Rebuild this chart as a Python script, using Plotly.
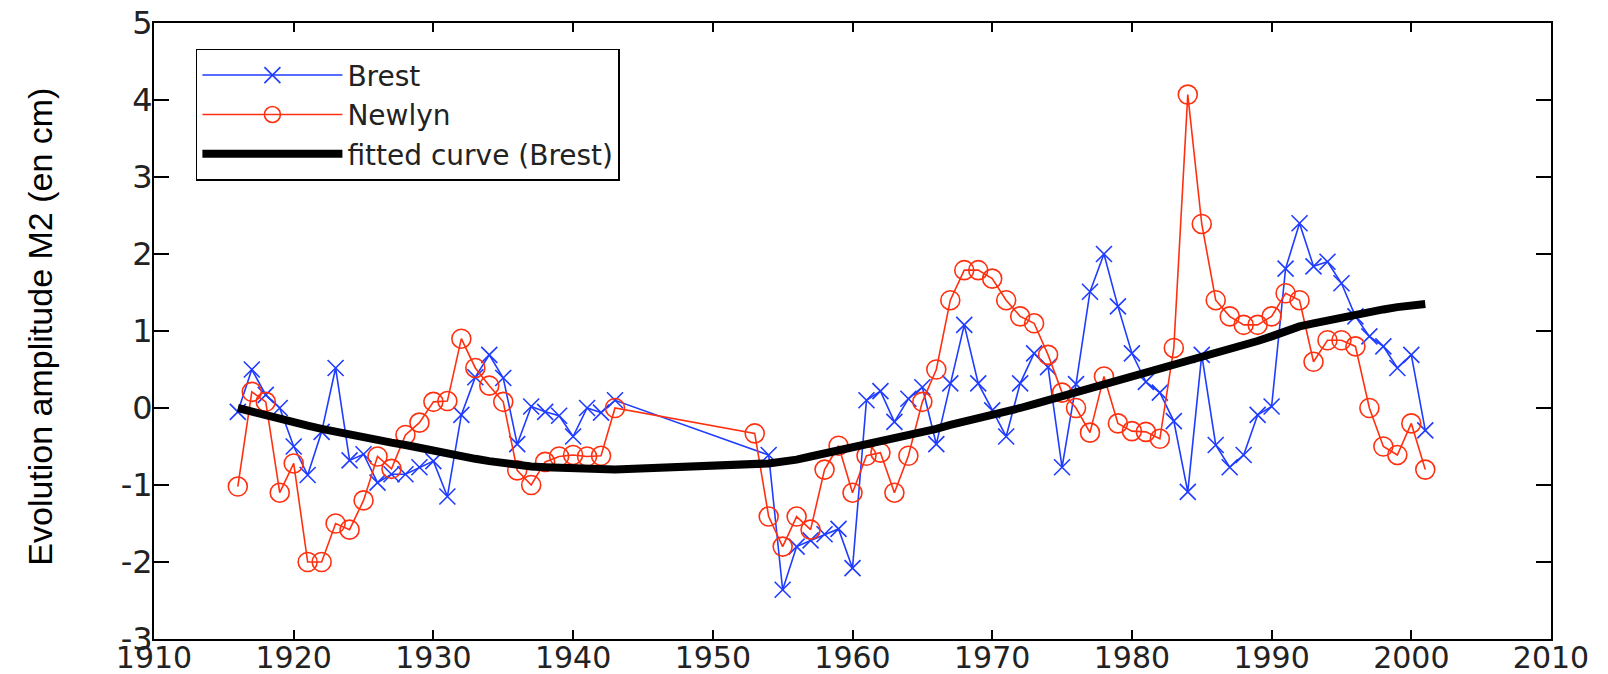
import plotly.graph_objects as go

# ---------------- data ----------------
brest_years = [1916, 1917, 1918, 1919, 1920, 1921, 1922, 1923, 1924, 1925,
               1926, 1927, 1928, 1929, 1930, 1931, 1932, 1933, 1934, 1935,
               1936, 1937, 1938, 1939, 1940, 1941, 1942, 1943,
               1954, 1955, 1956, 1957, 1958, 1959, 1960, 1961, 1962, 1963,
               1964, 1965, 1966, 1967, 1968, 1969, 1970, 1971, 1972, 1973,
               1974, 1975, 1976, 1977, 1978, 1979, 1980, 1981, 1982, 1983,
               1984, 1985, 1986, 1987, 1988, 1989, 1990, 1991, 1992, 1993,
               1994, 1995, 1996, 1997, 1998, 1999, 2000, 2001]
brest_vals = [-0.05, 0.50, 0.17, 0.00, -0.50, -0.87, -0.31, 0.52, -0.68, -0.60,
              -0.97, -0.86, -0.86, -0.77, -0.69, -1.15, -0.09, 0.40, 0.69, 0.39,
              -0.47, 0.02, -0.05, -0.10, -0.37, 0.00, -0.06, 0.10,
              -0.61, -2.36, -1.80, -1.72, -1.64, -1.57, -2.08, 0.10, 0.22, -0.18,
              0.12, 0.27, -0.47, 0.32, 1.08, 0.32, -0.03, -0.37, 0.32, 0.71,
              0.53, -0.77, 0.31, 1.51, 2.00, 1.32, 0.71, 0.34, 0.20, -0.17,
              -1.09, 0.69, -0.48, -0.77, -0.61, -0.09, 0.02, 1.81, 2.40, 1.84,
              1.90, 1.62, 1.19, 0.93, 0.80, 0.52, 0.69, -0.29]

newlyn_years = [1916, 1917, 1918, 1919, 1920, 1921, 1922, 1923, 1924, 1925,
                1926, 1927, 1928, 1929, 1930, 1931, 1932, 1933, 1934, 1935,
                1936, 1937, 1938, 1939, 1940, 1941, 1942, 1943,
                1953, 1954, 1955, 1956, 1957, 1958, 1959, 1960, 1961, 1962,
                1963, 1964, 1965, 1966, 1967, 1968, 1969, 1970, 1971, 1972,
                1973, 1974, 1975, 1976, 1977, 1978, 1979, 1980, 1981, 1982,
                1983, 1984, 1985, 1986, 1987, 1988, 1989, 1990, 1991, 1992,
                1993, 1994, 1995, 1996, 1997, 1998, 1999, 2000, 2001]
newlyn_vals = [-1.02, 0.21, 0.08, -1.10, -0.72, -2.00, -2.00, -1.50, -1.58, -1.20,
               -0.63, -0.79, -0.35, -0.19, 0.08, 0.09, 0.90, 0.52, 0.29, 0.08,
               -0.81, -1.00, -0.70, -0.63, -0.61, -0.63, -0.62, 0.00,
               -0.33, -1.41, -1.80, -1.41, -1.58, -0.80, -0.49, -1.10, -0.62, -0.58,
               -1.10, -0.62, 0.08, 0.50, 1.40, 1.79, 1.79, 1.68, 1.40, 1.19,
               1.10, 0.69, 0.20, 0.00, -0.32, 0.41, -0.20, -0.30, -0.31, -0.40,
               0.78, 4.07, 2.39, 1.40, 1.19, 1.08, 1.08, 1.19, 1.49, 1.40,
               0.60, 0.88, 0.88, 0.80, 0.00, -0.50, -0.61, -0.20, -0.80]

# fitted curve (Brest), one value per Brest year
fit_vals = [0.00, -0.05, -0.10, -0.15, -0.19, -0.23, -0.27, -0.31, -0.34, -0.38,
            -0.41, -0.45, -0.48, -0.52, -0.56, -0.59, -0.62, -0.66, -0.69, -0.72,
            -0.74, -0.76, -0.77, -0.78, -0.78, -0.79, -0.79, -0.80,
            -0.72, -0.70, -0.67, -0.63, -0.59, -0.55, -0.51, -0.48, -0.45, -0.41,
            -0.37, -0.32, -0.27, -0.22, -0.18, -0.13, -0.08, -0.04, 0.00, 0.05,
            0.10, 0.15, 0.20, 0.26, 0.31, 0.36, 0.41, 0.46, 0.51, 0.56,
            0.62, 0.67, 0.72, 0.77, 0.82, 0.87, 0.93, 1.00, 1.06, 1.10,
            1.14, 1.18, 1.21, 1.25, 1.28, 1.31, 1.33, 1.35]

x_ticks = [1910, 1920, 1930, 1940, 1950, 1960, 1970, 1980, 1990, 2000, 2010]
y_ticks = [-3, -2, -1, 0, 1, 2, 3, 4, 5]

series_names = ["Brest", "Newlyn", "fitted curve (Brest)"]
y_title = "Evolution amplitude M2 (en cm)"

# ---------------- figure ----------------
BLUE = "#1f3cff"
RED = "#ff3010"

fig = go.Figure()
fig.add_trace(go.Scatter(
    x=brest_years, y=brest_vals, name=series_names[0], mode="lines+markers",
    line=dict(color=BLUE, width=1.6),
    marker=dict(symbol="x-thin-open", size=16, color=BLUE,
                line=dict(color=BLUE, width=1.6)),
))
fig.add_trace(go.Scatter(
    x=newlyn_years, y=newlyn_vals, name=series_names[1], mode="lines+markers",
    line=dict(color=RED, width=1.6),
    marker=dict(symbol="circle-open", size=19, color=RED,
                line=dict(color=RED, width=1.6)),
))
fig.add_trace(go.Scatter(
    x=brest_years, y=fit_vals, name=series_names[2], mode="lines",
    line=dict(color="black", width=8),
))

axis_common = dict(
    showline=True, linecolor="black", linewidth=2, mirror="ticks",
    ticks="inside", tickcolor="black", tickwidth=2,
    showgrid=False, zeroline=False, automargin=False,
    ticklabeloverflow="allow",
)

fig.update_xaxes(range=[1910, 2010], tickmode="array", tickvals=x_ticks,
                 ticktext=[str(v) for v in x_ticks], ticklen=9,
                 ticklabelstandoff=-9,
                 tickfont=dict(family="DejaVu Sans", size=30, color="#222222"),
                 **axis_common)
fig.update_yaxes(range=[-3, 5], tickmode="array", tickvals=y_ticks,
                 ticktext=[str(v) if v >= 0 else "-" + str(-v) for v in y_ticks],
                 ticklen=15, ticklabelstandoff=-7,
                 tickfont=dict(family="DejaVu Sans", size=32, color="#222222"),
                 **axis_common)

fig.add_annotation(
    text=y_title, textangle=-90, xref="paper", yref="paper",
    x=-0.0816, y=0.507, xanchor="center", yanchor="middle", showarrow=False,
    font=dict(family="Liberation Sans, Arial", size=34, color="black"),
)

# the page body adds an 8 px offset, so the figure is 1600x666 and fills the window
fig.update_layout(
    width=1600, height=666,
    margin=dict(l=146, r=57, t=15, b=35),
    paper_bgcolor="white", plot_bgcolor="white",
    showlegend=True,
    legend=dict(
        x=0.030, y=0.958, xanchor="left", yanchor="top",
        bgcolor="white", bordercolor="black", borderwidth=1.5,
        font=dict(family="DejaVu Sans", size=28, color="#222222"),
        itemwidth=140, tracegroupgap=0,
    ),
)

fig.write_html("out.html")
